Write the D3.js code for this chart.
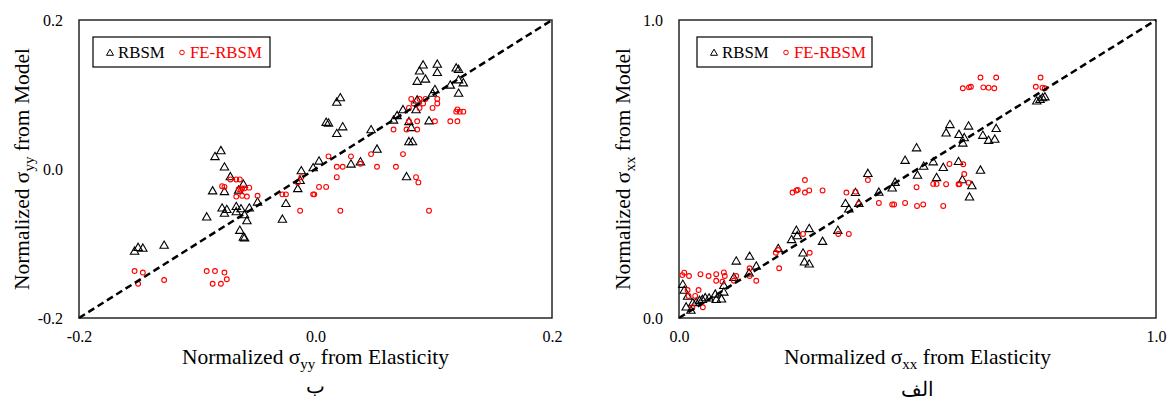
<!DOCTYPE html>
<html><head><meta charset="utf-8">
<script src="https://cdn.jsdelivr.net/npm/d3@7"></script>
<style>html,body{margin:0;padding:0;background:#fff;} svg{display:block;} text{font-family:"Liberation Serif","Times New Roman",serif;}</style>
</head><body><svg id="c" width="1168" height="407"></svg>
<script>
// ---- data (normalized stresses) ----
const leftRBSM = [
[-0.153,-0.110],[-0.150,-0.105],[-0.146,-0.106],[-0.128,-0.102],[-0.085,0.017],[-0.080,0.025],[-0.077,0.003],[-0.072,-0.010],
[-0.087,-0.029],[-0.077,-0.030],[-0.065,-0.028],[-0.061,-0.020],[-0.092,-0.064],[-0.079,-0.052],[-0.075,-0.054],[-0.077,-0.059],
[-0.067,-0.050],[-0.067,-0.057],[-0.063,-0.053],[-0.056,-0.052],[-0.060,-0.061],[-0.058,-0.069],[-0.064,-0.082],[-0.061,-0.091],
[-0.060,-0.092],[-0.049,-0.044],[-0.028,-0.067],[-0.025,-0.046],[-0.015,-0.026],[-0.012,-0.002],[-0.013,-0.015],[-0.002,0.002],
[0.003,0.011],[0.030,0.007],[0.038,0.010],[0.052,0.027],[0.077,-0.010],[0.018,0.048],[0.023,0.057],[0.009,0.063],
[0.011,0.062],[0.018,0.090],[0.021,0.096],[0.047,0.053],[0.069,0.072],[0.066,0.066],[0.074,0.080],[0.079,0.064],
[0.081,0.056],[0.079,0.037],[0.082,0.037],[0.096,0.065],[0.085,0.080],[0.086,0.093],[0.091,0.140],[0.103,0.141],
[0.088,0.132],[0.103,0.130],[0.086,0.118],[0.093,0.121],[0.119,0.136],[0.121,0.134],[0.114,0.113],[0.125,0.116],
[0.121,0.102],[0.121,0.120],[0.101,0.107],[0.099,0.102]];
const leftFE = [
[-0.153,-0.137],[-0.146,-0.139],[-0.150,-0.154],[-0.128,-0.149],[-0.092,-0.137],[-0.085,-0.137],[-0.077,-0.139],[-0.087,-0.154],
[-0.080,-0.154],[-0.075,-0.148],[-0.079,-0.023],[-0.077,-0.024],[-0.072,-0.014],[-0.067,-0.014],[-0.064,-0.014],[-0.065,-0.027],
[-0.062,-0.026],[-0.060,-0.026],[-0.056,-0.025],[-0.067,-0.037],[-0.062,-0.036],[-0.058,-0.037],[-0.049,-0.036],[-0.063,-0.028],
[-0.028,-0.034],[-0.025,-0.034],[-0.013,-0.056],[-0.015,-0.018],[-0.012,-0.011],[-0.002,-0.034],[-0.001,-0.034],[0.003,-0.024],
[0.009,-0.024],[0.011,0.017],[0.018,0.003],[0.023,0.003],[0.018,-0.011],[0.021,-0.056],[0.030,0.017],[0.038,0.007],
[0.047,0.020],[0.052,0.003],[0.068,0.003],[0.074,0.020],[0.085,-0.011],[0.087,-0.018],[0.096,-0.056],[0.066,0.053],
[0.077,0.053],[0.079,0.064],[0.086,0.064],[0.086,0.053],[0.101,0.064],[0.114,0.064],[0.120,0.064],[0.120,0.080],
[0.122,0.077],[0.125,0.077],[0.119,0.077],[0.081,0.094],[0.088,0.094],[0.093,0.094],[0.103,0.094],[0.103,0.088],
[0.083,0.088],[0.091,0.088],[0.079,0.082],[0.088,0.082],[0.099,0.082]];
const rightRBSM = [
[0.008,0.114],[0.011,0.094],[0.018,0.074],[0.015,0.038],[0.025,0.027],[0.029,0.052],[0.036,0.054],[0.043,0.060],
[0.049,0.063],[0.055,0.069],[0.063,0.068],[0.076,0.081],[0.078,0.063],[0.089,0.065],[0.094,0.088],[0.094,0.110],
[0.115,0.137],[0.120,0.192],[0.148,0.208],[0.162,0.175],[0.147,0.152],[0.208,0.234],[0.236,0.264],[0.246,0.295],
[0.248,0.277],[0.273,0.301],[0.260,0.219],[0.263,0.189],[0.273,0.182],[0.301,0.258],[0.333,0.295],[0.349,0.385],
[0.356,0.367],[0.370,0.422],[0.377,0.385],[0.396,0.486],[0.419,0.423],[0.447,0.437],[0.453,0.456],[0.474,0.530],
[0.498,0.572],[0.500,0.480],[0.513,0.510],[0.533,0.525],[0.540,0.472],[0.554,0.506],[0.560,0.622],[0.568,0.650],
[0.587,0.617],[0.595,0.588],[0.598,0.606],[0.586,0.526],[0.594,0.465],[0.607,0.645],[0.614,0.445],[0.609,0.407],
[0.632,0.497],[0.637,0.614],[0.649,0.597],[0.662,0.601],[0.665,0.637],[0.750,0.729],[0.757,0.734],[0.762,0.740],
[0.767,0.743]];
const rightFE = [
[0.007,0.144],[0.011,0.152],[0.021,0.141],[0.045,0.147],[0.062,0.141],[0.078,0.147],[0.094,0.153],[0.096,0.141],
[0.078,0.125],[0.091,0.122],[0.120,0.141],[0.115,0.125],[0.148,0.167],[0.148,0.141],[0.162,0.125],[0.018,0.094],
[0.041,0.094],[0.034,0.074],[0.020,0.074],[0.028,0.036],[0.050,0.036],[0.203,0.219],[0.208,0.228],[0.210,0.167],
[0.260,0.282],[0.274,0.219],[0.334,0.282],[0.356,0.282],[0.351,0.421],[0.370,0.424],[0.377,0.383],[0.264,0.463],
[0.238,0.421],[0.246,0.428],[0.249,0.430],[0.264,0.421],[0.273,0.428],[0.301,0.428],[0.396,0.463],[0.419,0.386],
[0.447,0.381],[0.451,0.381],[0.474,0.386],[0.499,0.376],[0.512,0.381],[0.554,0.376],[0.498,0.439],[0.533,0.450],
[0.540,0.450],[0.560,0.449],[0.586,0.449],[0.588,0.450],[0.607,0.454],[0.567,0.517],[0.596,0.516],[0.598,0.483],
[0.595,0.771],[0.608,0.774],[0.612,0.776],[0.632,0.807],[0.638,0.774],[0.649,0.773],[0.661,0.771],[0.665,0.807],
[0.758,0.807],[0.748,0.776],[0.762,0.773],[0.767,0.771]];
const leftTicks = [-0.2, 0.0, 0.2];
const rightTicks = [0.0, 1.0];
const seriesNames = ["RBSM", "FE-RBSM"];

const svg = d3.select("#c");
const serif = "Liberation Serif, Times New Roman, serif";
const triPath = "M0,-4 L4.2,3.3 L-4.2,3.3 Z";

function panel(o) {
  const g = svg.append("g");
  const x = d3.scaleLinear().domain(o.domain).range([o.x0, o.x1]);
  const y = d3.scaleLinear().domain(o.domain).range([o.y1, o.y0]);
  g.append("rect").attr("x", o.x0).attr("y", o.y0).attr("width", o.x1 - o.x0).attr("height", o.y1 - o.y0)
    .attr("fill", "#fff").attr("stroke", "#262626").attr("stroke-width", 1.5);
  const fmt = d => d.toFixed(1);
  const xa = g.append("g").attr("transform", `translate(0,${o.y1})`)
    .call(d3.axisBottom(x).tickValues(o.ticks).tickSize(0).tickPadding(13).tickFormat(fmt));
  const ya = g.append("g").attr("transform", `translate(${o.x0},0)`)
    .call(d3.axisLeft(y).tickValues(o.ticks).tickSize(0).tickPadding(16).tickFormat(fmt));
  [xa, ya].forEach(a => { a.attr("font-family", serif).attr("font-size", 16); a.select(".domain").remove();
    a.selectAll("text").attr("fill", "#000"); });
  g.append("g").selectAll("path").data(o.rbsm).join("path")
    .attr("d", triPath).attr("transform", d => `translate(${x(d[0])},${y(d[1])})`)
    .attr("fill", "none").attr("stroke", "#000").attr("stroke-width", 1.1);
  g.append("g").selectAll("circle").data(o.fe).join("circle")
    .attr("cx", d => x(d[0])).attr("cy", d => y(d[1])).attr("r", 2.4)
    .attr("fill", "none").attr("stroke", "#ff0000").attr("stroke-width", 1.1);
  g.append("line").attr("x1", x(o.domain[0])).attr("y1", y(o.domain[0]))
    .attr("x2", x(o.domain[1])).attr("y2", y(o.domain[1]))
    .attr("stroke", "#000").attr("stroke-width", 2.5).attr("stroke-dasharray", "7,4");
  const lx = o.legX, ly = 37;
  g.append("rect").attr("x", lx).attr("y", ly).attr("width", o.legW).attr("height", 30)
    .attr("fill", "#fff").attr("stroke", "#000").attr("stroke-width", 1.2);
  g.append("path").attr("d", "M0,-3.3 L3.5,2.8 L-3.5,2.8 Z").attr("transform", `translate(${lx + 17},${ly + 15.5})`)
    .attr("fill", "none").attr("stroke", "#000").attr("stroke-width", 1);
  g.append("text").attr("x", lx + 25).attr("y", ly + 21.3).attr("font-family", serif).attr("font-size", 16.8).attr("fill", "#000").text(seriesNames[0]);
  g.append("circle").attr("cx", lx + 89).attr("cy", ly + 15.5).attr("r", 2.3)
    .attr("fill", "none").attr("stroke", "#ff0000").attr("stroke-width", 1);
  g.append("text").attr("x", lx + 97).attr("y", ly + 21.3).attr("font-family", serif).attr("font-size", 16.8).attr("fill", "#ff0000").text(seriesNames[1]);
  const cx = (o.x0 + o.x1) / 2, cy = (o.y0 + o.y1) / 2;
  const xt = g.append("text").attr("x", cx).attr("y", 364).attr("text-anchor", "middle")
    .attr("font-family", serif).attr("font-size", 21.5);
  xt.append("tspan").text("Normalized \u03c3");
  xt.append("tspan").attr("dy", 5).attr("font-size", 15).text(o.sub);
  xt.append("tspan").attr("dy", -5).text(" from Elasticity");
  const yt = g.append("text").attr("transform", `translate(${o.yTitleX},${cy}) rotate(-90)`)
    .attr("text-anchor", "middle").attr("font-family", serif).attr("font-size", 21.5);
  yt.append("tspan").text("Normalized \u03c3");
  yt.append("tspan").attr("dy", 5).attr("font-size", 15).text(o.sub);
  yt.append("tspan").attr("dy", -5).text(" from Model");
  g.append("text").attr("x", cx).attr("y", o.capY).attr("text-anchor", "middle")
    .attr("font-family", "DejaVu Serif, DejaVu Sans, serif").attr("font-size", 20).text(o.caption);
}

panel({domain: [-0.2, 0.2], ticks: leftTicks, x0: 79, x1: 552, y0: 20, y1: 318, rbsm: leftRBSM, fe: leftFE,
  legX: 93, legW: 177, sub: "yy", yTitleX: 29, caption: "\u0628", capY: 393});
panel({domain: [0, 1], ticks: rightTicks, x0: 679, x1: 1156, y0: 20, y1: 318, rbsm: rightRBSM, fe: rightFE,
  legX: 697, legW: 175, sub: "xx", yTitleX: 630, caption: "\u0627\u0644\u0641", capY: 396});
</script></body></html>
